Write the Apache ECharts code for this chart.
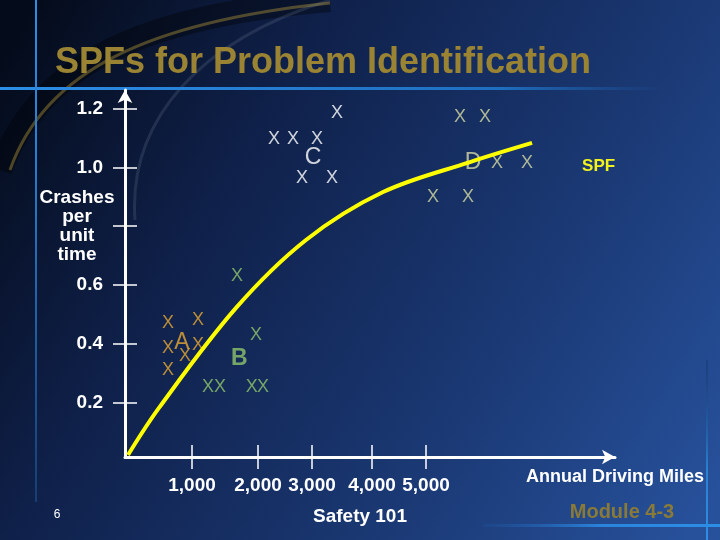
<!DOCTYPE html>
<html>
<head>
<meta charset="utf-8">
<script src="https://cdn.jsdelivr.net/npm/echarts@6/dist/echarts.min.js"></script>
<style>
  html, body { margin: 0; padding: 0; }
  #chart { width: 720px; height: 540px; }
</style>
</head>
<body>
<div id="chart"></div>
<script>
// axis positions of the x ticks (the slide spaces them unevenly)
const xTickPos = [1000, 1985, 2791, 3687, 4493];
const xTickLabels = ['1,000', '2,000', '3,000', '4,000', '5,000'];
const yTicks = [0.2, 0.4, 0.6, 0.8, 1.0, 1.2];
const yLabelTicks = [0.2, 0.4, 0.6, 1.0, 1.2];

// SPF curve
const spfX = [45, 507, 1657, 2701, 3851, 5149, 6075];
const spfY = [0.022, 0.182, 0.522, 0.753, 0.916, 1.018, 1.083];

// site groups: [x, y, mark]
const groupA = [[642, 0.471, 'X'], [1090, 0.481, 'X'], [642, 0.386, 'X'], [851, 0.403, 'A'],
  [896, 0.359, 'X'], [1090, 0.396, 'X'], [642, 0.311, 'X']];
const groupB = [[1955, 0.430, 'X'], [1706, 0.351, 'B'], [1239, 0.254, 'X'], [1418, 0.254, 'X'],
  [1891, 0.254, 'X'], [2060, 0.254, 'X'], [1672, 0.631, 'X']];
const groupC = [[3164, 1.185, 'X'], [2224, 1.097, 'X'], [2507, 1.097, 'X'], [2866, 1.097, 'X'],
  [2806, 1.032, 'C'], [2642, 0.964, 'X'], [3090, 0.964, 'X']];
const groupD = [[5000, 1.171, 'X'], [5373, 1.171, 'X'], [5194, 1.015, 'D'], [5552, 1.015, 'X'],
  [6000, 1.015, 'X'], [4597, 0.899, 'X'], [5119, 0.899, 'X']];

const FONT = '"Liberation Sans", Arial, sans-serif';
const chart = echarts.init(document.getElementById('chart'));

// 把每组点画成文字标记
const markSeries = (data, color, letterWeight) => ({
  type: 'scatter',
  symbolSize: 0,
  data: data.map(d => ({
    value: [d[0], d[1]],
    name: d[2],
    label: d[2] === 'X' ? {} : { fontSize: 23, fontWeight: letterWeight }
  })),
  label: {
    show: true,
    position: 'inside',
    formatter: p => p.name,
    color: color,
    fontSize: 18,
    fontFamily: FONT
  },
  emphasis: { disabled: true }
});

const xMin = 0, xMax = 7313, yMin = 0.015, yMax = 1.263;

const option = {
  animation: false,
  backgroundColor: {
    type: 'linear', x: 0, y: 0.1, x2: 1, y2: 0.9,
    colorStops: [
      { offset: 0, color: '#040b1a' },
      { offset: 0.3, color: '#0f2049' },
      { offset: 0.7, color: '#1b3a76' },
      { offset: 1, color: '#27519b' }
    ]
  },
  title: {
    text: 'SPFs for Problem Identification',
    left: 55, top: 45, padding: 0,
    textStyle: { color: '#9a8434', fontSize: 36, fontWeight: 'bold', fontFamily: FONT }
  },
  grid: { left: 125, right: 105, top: 90, bottom: 83 },
  xAxis: [
    {
      type: 'value', min: xMin, max: xMax, position: 'bottom',
      name: 'Annual Driving Miles', nameLocation: 'end', nameGap: 0,
      nameTextStyle: { color: '#ffffff', fontSize: 18, fontWeight: 'bold', fontFamily: FONT,
        align: 'center', verticalAlign: 'top', padding: [11, 0, 0, 0] },
      axisLine: { show: true, symbol: ['none', 'arrow'], symbolSize: [11, 13],
        lineStyle: { color: '#ffffff', width: 3 } },
      axisTick: { show: true, inside: true, length: 12, customValues: xTickPos,
        lineStyle: { color: '#ffffff', width: 1.5 } },
      axisLabel: { show: false },
      splitLine: { show: false }
    },
    {
      type: 'value', min: xMin, max: xMax, position: 'bottom',
      axisLine: { show: false },
      axisTick: { show: true, length: 12, customValues: xTickPos,
        lineStyle: { color: '#ffffff', width: 1.5 } },
      axisLabel: { show: true, customValues: xTickPos, margin: 19,
        formatter: v => xTickLabels[xTickPos.indexOf(v)],
        color: '#ffffff', fontSize: 19, fontWeight: 'bold', fontFamily: FONT },
      splitLine: { show: false }
    }
  ],
  yAxis: [
    {
      type: 'value', min: yMin, max: yMax, position: 'left',
      axisLine: { show: true, symbol: ['none', 'arrow'], symbolSize: [11, 13],
        lineStyle: { color: '#ffffff', width: 3 } },
      axisTick: { show: true, inside: true, length: 12, customValues: yTicks,
        lineStyle: { color: '#ffffff', width: 1.5 } },
      axisLabel: { show: false },
      splitLine: { show: false }
    },
    {
      type: 'value', min: yMin, max: yMax, position: 'left',
      axisLine: { show: false },
      axisTick: { show: true, length: 12, customValues: yTicks,
        lineStyle: { color: '#ffffff', width: 1.5 } },
      axisLabel: { show: true, customValues: yLabelTicks, margin: 22,
        formatter: v => v.toFixed(1),
        color: '#ffffff', fontSize: 19, fontWeight: 'bold', fontFamily: FONT },
      splitLine: { show: false }
    }
  ],
  graphic: [
    // 背景的弧线装饰
    { type: 'bezierCurve', z: -10, silent: true,
      shape: { x1: 0, y1: 170, cpx1: 40, cpy1: 60, cpx2: 150, cpy2: 15, x2: 330, y2: 0 },
      style: { stroke: 'rgba(0,0,0,0.35)', lineWidth: 24, fill: null } },
    { type: 'bezierCurve', z: -9, silent: true,
      shape: { x1: 10, y1: 170, cpx1: 45, cpy1: 70, cpx2: 150, cpy2: 22, x2: 330, y2: 3 },
      style: { stroke: 'rgba(190,160,60,0.4)', lineWidth: 3, fill: null } },
    { type: 'bezierCurve', z: -9, silent: true,
      shape: { x1: 135, y1: 220, cpx1: 128, cpy1: 120, cpx2: 200, cpy2: 40, x2: 330, y2: 0 },
      style: { stroke: 'rgba(170,180,200,0.15)', lineWidth: 3, fill: null } },
    // 标题下的蓝线
    { type: 'rect', z: -5, silent: true, shape: { x: 0, y: 87, width: 665, height: 3 },
      style: { fill: { type: 'linear', x: 0, y: 0, x2: 1, y2: 0,
        colorStops: [{ offset: 0, color: '#2d8ee6' }, { offset: 0.75, color: '#1f6fc0' }, { offset: 1, color: 'rgba(30,100,180,0)' }] } } },
    { type: 'rect', z: -5, silent: true, shape: { x: 35, y: 0, width: 2, height: 502 },
      style: { fill: { type: 'linear', x: 0, y: 0, x2: 0, y2: 1,
        colorStops: [{ offset: 0, color: '#2d8ee6' }, { offset: 0.3, color: '#2a7fd0' }, { offset: 1, color: '#163e73' }] } } },
    { type: 'rect', z: -5, silent: true, shape: { x: 483, y: 524, width: 237, height: 3 },
      style: { fill: { type: 'linear', x: 0, y: 0, x2: 1, y2: 0,
        colorStops: [{ offset: 0, color: 'rgba(30,90,170,0.2)' }, { offset: 0.5, color: '#2a84dc' }, { offset: 1, color: '#2d8ee6' }] } } },
    { type: 'rect', z: -5, silent: true, shape: { x: 706, y: 360, width: 2, height: 180 },
      style: { fill: { type: 'linear', x: 0, y: 0, x2: 0, y2: 1,
        colorStops: [{ offset: 0, color: 'rgba(20,50,100,0.4)' }, { offset: 0.6, color: '#2a7fd0' }, { offset: 1, color: '#2d8ee6' }] } } },
    // 文字
    { type: 'text', left: 38, top: 188, silent: true,
      style: { text: 'Crashes\nper\nunit\ntime', fill: '#ffffff', font: 'bold 19px ' + FONT,
        textAlign: 'center', lineHeight: 19, width: 78 } },
    { type: 'text', x: 360, y: 517, silent: true,
      style: { text: 'Safety 101', fill: '#ffffff', font: 'bold 19px ' + FONT,
        textAlign: 'center', textVerticalAlign: 'middle' } },
    { type: 'text', x: 622, y: 512, silent: true,
      style: { text: 'Module 4-3', fill: '#8a7a38', font: 'bold 20px ' + FONT,
        textAlign: 'center', textVerticalAlign: 'middle' } },
    { type: 'text', x: 57, y: 515, silent: true,
      style: { text: '6', fill: '#ffffff', font: '12px ' + FONT,
        textAlign: 'center', textVerticalAlign: 'middle' } }
  ],
  series: [
    {
      type: 'line',
      name: 'SPF',
      smooth: 0.35,
      showSymbol: false,
      data: spfX.map((x, i) => [x, spfY[i]]),
      lineStyle: { color: '#ffff00', width: 4 },
      endLabel: { show: true, formatter: 'SPF', color: '#f2f21c', fontSize: 17,
        fontWeight: 'bold', fontFamily: FONT, offset: [42, 23] },
      emphasis: { disabled: true },
      z: 3
    },
    markSeries(groupA, '#e6a732', 'normal'),
    markSeries(groupB, '#8fc46b', 'bold'),
    markSeries(groupC, '#ffffff', 'normal'),
    markSeries(groupD, '#d5d9a2', 'normal')
  ]
};

chart.setOption(option);
</script>
</body>
</html>
